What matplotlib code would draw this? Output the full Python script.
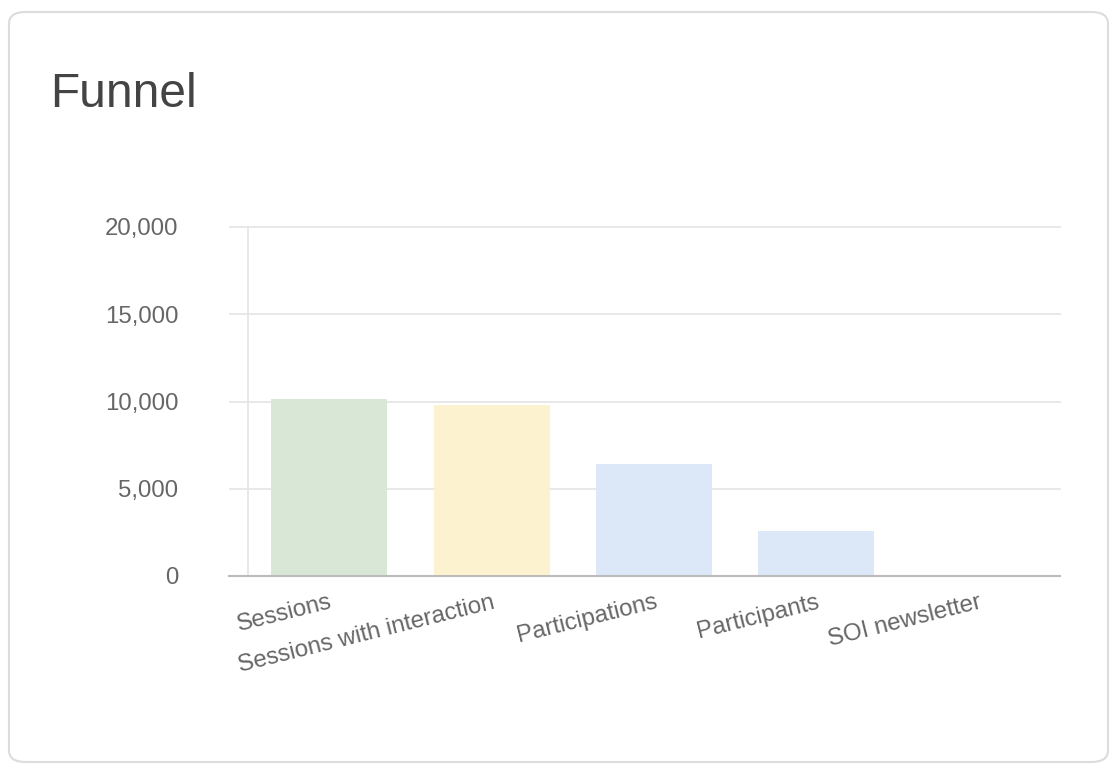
import matplotlib
matplotlib.use("Agg")
import matplotlib.pyplot as plt
from matplotlib.patches import FancyBboxPatch
from matplotlib.ticker import FuncFormatter

plt.rcParams['font.family'] = ['Liberation Sans', 'DejaVu Sans']

# data
stages = ['Sessions', 'Sessions with interaction', 'Participations',
          'Participants', 'SOI newsletter']
counts = [10150, 9800, 6420, 2580, 0]
bar_colors = ['#d9e7d6', '#fdf2d0', '#dce7f8', '#dce7f8', '#dce7f8']
y_ticks = [0, 5000, 10000, 15000, 20000]

W, H = 1118, 770
fig = plt.figure(figsize=(W / 100, H / 100), dpi=100)
fig.patch.set_facecolor('white')

# card with rounded border (behind the axes)
card = FancyBboxPatch((9 / W, 1 - 762 / H), (1108 - 9) / W, (762 - 12) / H,
                      boxstyle='round,pad=0,rounding_size=0.015',
                      transform=fig.transFigure, facecolor='white',
                      edgecolor='#dcdcdc', linewidth=1.5, zorder=-1)
fig.patches.append(card)

fig.text(50 / W, 1 - 107 / H, 'Funnel', fontsize=34.5, color='#444444',
         ha='left', va='baseline')

ax = fig.add_axes([248 / W, 1 - 576 / H, (1060 - 248) / W, (576 - 227) / H])
ax.set_facecolor('none')

x = list(range(len(stages)))
ax.bar(x, counts, width=0.715, color=bar_colors, zorder=2)

ax.set_xlim(-0.5, len(stages) - 0.5)
ax.set_ylim(0, 20000)
ax.set_yticks(y_ticks)
ax.yaxis.set_major_formatter(FuncFormatter(lambda v, p: f'{int(v):,}'))
ax.grid(axis='y', color='#e6e6e6', linewidth=1.3, zorder=0)
for gl in ax.get_ygridlines():
    gl.set_clip_on(False)
ax.tick_params(axis='y', length=14, width=1.3, color='#e6e6e6',
               labelsize=17.3, labelcolor='#666666', pad=36)

ax.set_xticks(x)
ax.set_xticklabels(stages, rotation=14, ha='right', va='top',
                   rotation_mode='anchor', fontsize=17.3, color='#666666')
ax.tick_params(axis='x', length=0, pad=11)

for side in ['top', 'right']:
    ax.spines[side].set_visible(False)
ax.spines['left'].set_color('#e6e6e6')
ax.spines['left'].set_linewidth(1.3)
ax.spines['bottom'].set_color('#bbbbbb')
ax.spines['bottom'].set_linewidth(1.5)
ax.spines['bottom'].set_bounds(-0.5 - 19 / 162.4, len(stages) - 0.5)
ax.spines['bottom'].set_zorder(3)

fig.savefig('out.png', dpi=100)
